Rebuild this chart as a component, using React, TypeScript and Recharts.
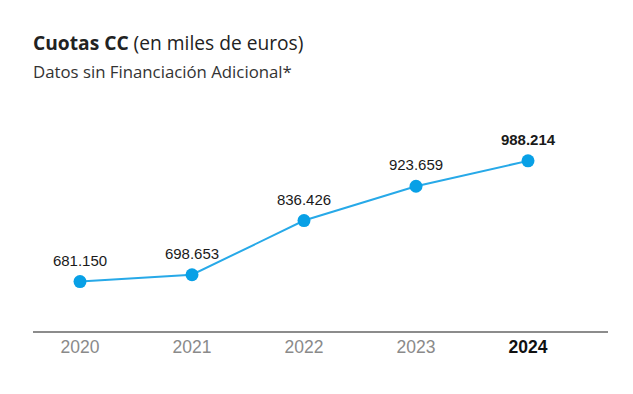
import React from 'react';
import { LineChart, Line, XAxis, YAxis, LabelList } from 'recharts';

const years = ['2020', '2021', '2022', '2023', '2024'];
const cuotas = [681150, 698653, 836426, 923659, 988214];
const valueLabels = ['681.150', '698.653', '836.426', '923.659', '988.214'];
const highlightYear = '2024';

const data = years.map((y, i) => ({ year: y, value: cuotas[i], label: valueLabels[i] }));

const AxisTick = (props: any) => {
  const { x, y, payload } = props;
  const bold = payload.value === highlightYear;
  return (
    <text
      x={x}
      y={y}
      dy={19}
      textAnchor="middle"
      fontFamily="'Liberation Sans', Arial, sans-serif"
      fontSize={17.5}
      fontWeight={bold ? 700 : 400}
      fill={bold ? '#111' : '#8a8a8a'}
    >
      {payload.value}
    </text>
  );
};

const ValueLabel = (props: any) => {
  const { x, y, value, index } = props;
  const bold = years[index] === highlightYear;
  return (
    <text
      x={x}
      y={y - 16}
      textAnchor="middle"
      fontFamily="'Liberation Sans', Arial, sans-serif"
      fontSize={15}
      fontWeight={bold ? 700 : 400}
      fill="#1a1a1a"
    >
      {valueLabels[index] ?? value}
    </text>
  );
};

export default function App() {
  return (
    <div style={{ position: 'fixed', left: 0, top: 0, width: 633, height: 394, background: '#fff' }}>
      <svg width={633} height={100} style={{ position: 'absolute', left: 0, top: 0 }}>
        <text x={33} y={50} fontFamily="'Open Sans', sans-serif" fontSize={19.2} fill="#222">
          <tspan fontWeight={700}>Cuotas CC</tspan>
          <tspan fontWeight={400}> (en miles de euros)</tspan>
        </text>
        <text x={33} y={78} fontFamily="'Open Sans', sans-serif" fontSize={16.8} fill="#333">
          Datos sin Financiación Adicional*
        </text>
      </svg>
      <div style={{ position: 'absolute', left: 0, top: 0 }}>
        <LineChart width={633} height={394} data={data} margin={{ top: 100, right: 25, bottom: 32, left: 33 }}>
          <XAxis
            dataKey="year"
            height={30}
            padding={{ left: 47, right: 80 }}
            axisLine={{ stroke: '#8c8c8c', strokeWidth: 2 }}
            tickLine={false}
            tickSize={0}
            tick={<AxisTick />}
            interval={0}
          />
          <YAxis hide domain={[553000, 1143000]} />
          <Line
            type="linear"
            dataKey="value"
            stroke="#27a9e8"
            strokeWidth={2}
            dot={{ r: 6.5, fill: '#08a0e6', stroke: 'none' }}
            activeDot={false}
            isAnimationActive={false}
          >
            <LabelList dataKey="label" content={<ValueLabel />} />
          </Line>
        </LineChart>
      </div>
    </div>
  );
}
